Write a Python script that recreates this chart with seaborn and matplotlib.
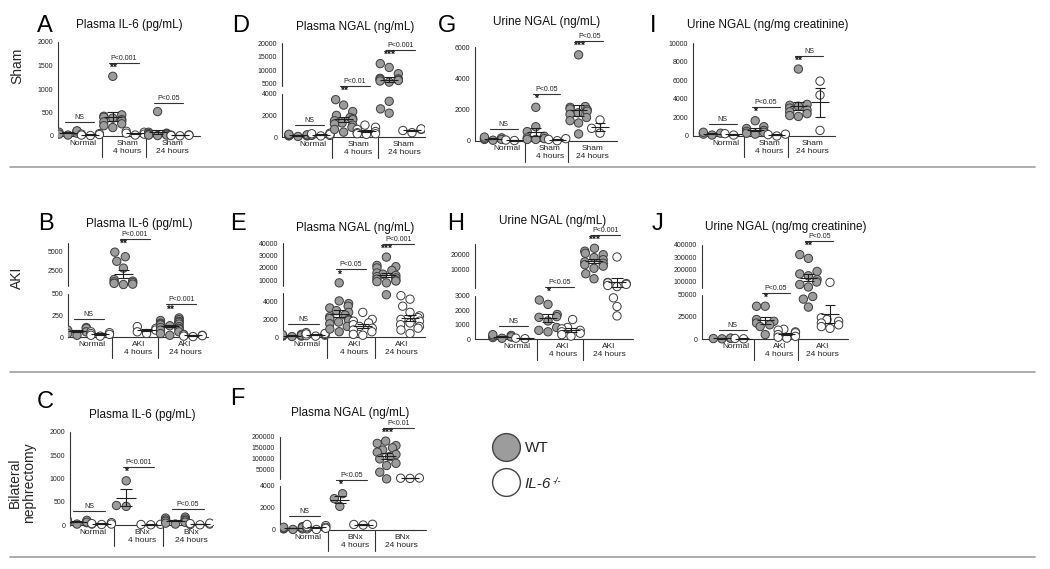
import numpy as np
import pandas as pd
import matplotlib
matplotlib.use("Agg")
import matplotlib.pyplot as plt
from matplotlib.lines import Line2D
import seaborn as sns

# values per group, in order [Normal, 4 hours, 24 hours]
A_WT = [[100, 80, 60, 40, 20, 110],
        [1270, 450, 420, 400, 380, 350, 320, 300, 260, 220, 180],
        [520, 80, 60, 50, 40, 40, 30, 20, 20, 10]]
A_KO = [[50, 40, 30, 20, 10], [100, 80, 60, 40, 20], [25, 20, 15, 10, 5]]

D_WT = [[50, 100, 150, 200, 250, 100, 150, 200],
        [3450, 2950, 2350, 2000, 1800, 1700, 1600, 1500, 1300, 1200, 1100, 900, 700, 450],
        [12400, 11000, 8700, 7000, 6800, 6600, 6400, 6200, 6000, 5600, 3300, 2600, 2200]]
D_KO = [[100, 150, 200, 250, 300, 350, 150, 250],
        [1100, 900, 700, 500, 400, 300, 300, 250],
        [400, 600, 700, 750]]

G_WT = [[50, 100, 150, 200, 250, 100],
        [2150, 910, 600, 300, 200, 150, 100, 100],
        [5500, 2200, 2150, 2050, 2000, 1900, 1800, 1700, 1500, 1300, 1150, 450]]
G_KO = [[30, 60], [20, 100, 150], [1340, 810, 500]]

I_WT = [[100, 200, 300, 400],
        [1640, 1000, 800, 600, 500, 400, 300, 200],
        [7200, 3400, 3300, 3200, 3000, 2800, 2600, 2400, 2200, 2100]]
I_KO = [[100, 250], [0, 150, 200], [5900, 4400, 600]]

B_WT = [[110, 100, 80, 60, 40, 20],
        [4900, 4300, 3700, 2800, 1300, 1100, 1000, 900, 800, 700, 650],
        [220, 200, 190, 180, 170, 160, 150, 150, 140, 130, 120, 110, 100, 90, 80, 60, 40, 20]]
B_KO = [[60, 50, 40, 30, 20, 10], [120, 100, 80, 60, 40], [30, 25, 20, 15, 10, 5]]

E_WT = [[50, 100, 150, 200, 250, 300, 100, 200],
        [8000, 4100, 3800, 3500, 3300, 3000, 2800, 2500, 2300, 2100, 2000, 1900, 1700, 1500, 1200, 900, 600],
        [28700, 22000, 21000, 20000, 18000, 16000, 15000, 14000, 13000, 12000, 11000, 10000, 9500, 9000, 8000, 4800]]
E_KO = [[100, 200, 300, 400, 500, 250, 150, 350],
        [2800, 2000, 1800, 1600, 1400, 1200, 1000, 800, 600, 300, 200],
        [4700, 4300, 3500, 2800, 2400, 2200, 2000, 1800, 1600, 1400, 1200, 1000, 800, 400]]

H_WT = [[50, 100, 150, 200, 250, 300, 150],
        [2700, 2400, 1700, 1550, 1500, 1250, 800, 600, 500],
        [24500, 22500, 21000, 20000, 18000, 16500, 15000, 14000, 13000, 12000, 10500, 8300, 6500]]
H_KO = [[20, 60],
        [1350, 800, 700, 600, 500, 400, 300, 200],
        [18400, 5200, 5000, 4800, 4500, 4100, 3700, 2850, 2250, 1600]]

J_WT = [[200, 500, 800, 1000],
        [37000, 37000, 22000, 20000, 18000, 16000, 14000, 5000],
        [320000, 290000, 185000, 165000, 150000, 120000, 100000, 80000, 60000, 48000, 45000, 36000]]
J_KO = [[200, 600],
        [11000, 10000, 8000, 7000, 5000, 3000, 2000, 1000],
        [97000, 24000, 22000, 20000, 18000, 16000, 14000, 12000]]

C_WT = [[20, 50, 80, 100, 120, 60, 40, 90], [950, 420, 400],
        [170, 150, 130, 110, 100, 90, 80, 60, 40, 20]]
C_KO = [[10, 20, 30, 40, 50, 20], [5, 10, 15], [5, 10, 20, 30, 40]]

F_WT = [[50, 100, 150, 200, 250, 300, 100, 200], [3300, 2850, 2150],
        [180000, 170000, 160000, 150000, 140000, 130000, 120000, 110000, 100000, 80000, 70000, 40000, 10000]]
F_KO = [[50, 100, 200, 300, 400, 500, 250, 150], [450, 500, 520], [12000, 13000, 14000]]

ROWS = ["Sham", "AKI", "BNx"]
TITLES = {"A": "Plasma IL-6 (pg/mL)", "D": "Plasma NGAL (ng/mL)", "G": "Urine NGAL (ng/mL)",
          "I": "Urine NGAL (ng/mg creatinine)", "B": "Plasma IL-6 (pg/mL)", "E": "Plasma NGAL (ng/mL)",
          "H": "Urine NGAL (ng/mL)", "J": "Urine NGAL (ng/mg creatinine)", "C": "Plasma IL-6 (pg/mL)",
          "F": "Plasma NGAL (ng/mL)"}
STARS = {"A": ["", "**", ""], "D": ["", "**", "***"], "G": ["", "*", "***"], "I": ["", "*", "**"],
         "B": ["", "**", "**"], "E": ["", "*", "***"], "H": ["", "*", "***"], "J": ["", "*", "**"],
         "C": ["", "*", ""], "F": ["", "*", "***"]}
PVALS = {"A": ["NS", "P<0.001", "P<0.05"], "D": ["NS", "P<0.01", "P<0.001"],
         "G": ["NS", "P<0.05", "P<0.05"], "I": ["NS", "P<0.05", "NS"],
         "B": ["NS", "P<0.001", "P<0.001"], "E": ["NS", "P<0.05", "P<0.001"],
         "H": ["NS", "P<0.05", "P<0.001"], "J": ["NS", "P<0.05", "P<0.05"],
         "C": ["NS", "P<0.001", "P<0.05"], "F": ["NS", "P<0.05", "P<0.01"]}
TICKS = {"A": [0, 500, 1000, 1500, 2000], "D": [0, 2000, 4000, 5000, 10000, 15000, 20000],
         "G": [0, 2000, 4000, 6000], "I": [0, 2000, 4000, 6000, 8000, 10000],
         "B": [0, 250, 500, 2500, 5000], "E": [0, 2000, 4000, 10000, 20000, 30000, 40000],
         "H": [0, 1000, 2000, 3000, 10000, 20000],
         "J": [0, 25000, 50000, 100000, 200000, 300000, 400000],
         "C": [0, 500, 1000, 1500, 2000], "F": [0, 2000, 4000, 50000, 100000, 150000, 200000]}

# layout in pixels: axis box, slot spacing, broken-axis scale (value -> px above zero)
GEO = {
    "A": dict(row=0, x0=58, x1=200, slot0=68, sp=22.4, y0=136, vals=[0, 2000], hts=[0, 94],
              segs=[(0, 2000)], tx=129, ty=25, lx=37, ly=32),
    "D": dict(row=0, x0=282, x1=425, slot0=298, sp=22.8, y0=137, vals=[0, 4000, 4200, 20000],
              hts=[0, 43.3, 51.1, 94], segs=[(0, 4000), (4200, 20000)], tx=355, ty=27, lx=232, ly=32),
    "G": dict(row=0, x0=475, x1=617, slot0=493, sp=21.4, y0=141, vals=[0, 6000], hts=[0, 94],
              segs=[(0, 6000)], tx=547, ty=22, lx=438, ly=32),
    "I": dict(row=0, x0=693, x1=835, slot0=712, sp=21.6, y0=136, vals=[0, 10000], hts=[0, 93],
              segs=[(0, 10000)], tx=768, ty=25, lx=650, ly=32),
    "B": dict(row=1, x0=68, x1=208, slot0=77, sp=23.2, y0=337, vals=[0, 500, 520, 2500, 5000],
              hts=[0, 43.3, 51.5, 66.6, 85.6], segs=[(0, 500), (520, 6100)], tx=139, ty=224, lx=38, ly=230),
    "E": dict(row=1, x0=283, x1=425, slot0=292, sp=23.6, y0=337,
              vals=[0, 5000, 5700, 10000, 40000], hts=[0, 44, 51.3, 56.6, 94],
              segs=[(0, 5000), (5700, 40000)], tx=355, ty=228, lx=230, ly=230),
    "H": dict(row=1, x0=475, x1=633, slot0=502, sp=23.0, y0=339,
              vals=[0, 3000, 3200, 10000, 20000, 30000], hts=[0, 43.3, 51, 70, 84.3, 98.6],
              segs=[(0, 3000), (3200, 27500)], tx=553, ty=221, lx=447, ly=230),
    "J": dict(row=1, x0=702, x1=848, slot0=722, sp=21.6, y0=339,
              vals=[0, 50000, 52000, 100000, 400000], hts=[0, 44.3, 51, 57, 94.3],
              segs=[(0, 50000), (52000, 400000)], tx=786, ty=227, lx=652, ly=230),
    "C": dict(row=2, x0=70, x1=213, slot0=77, sp=24.6, y0=525, vals=[0, 2000], hts=[0, 93],
              segs=[(0, 2000)], tx=142, ty=415, lx=37, ly=408),
    "F": dict(row=2, x0=280, x1=426, slot0=293, sp=23.4, y0=530, vals=[0, 4000, 8000, 200000],
              hts=[0, 44, 50.7, 93.3], segs=[(0, 4000), (8000, 200000)], tx=350, ty=413, lx=230, ly=405),
}
DATA = {"A": (A_WT, A_KO), "D": (D_WT, D_KO), "G": (G_WT, G_KO), "I": (I_WT, I_KO),
        "B": (B_WT, B_KO), "E": (E_WT, E_KO), "H": (H_WT, H_KO), "J": (J_WT, J_KO),
        "C": (C_WT, C_KO), "F": (F_WT, F_KO)}

sns.set_style("white")
plt.rcParams["font.family"] = ["Liberation Sans", "DejaVu Sans"]

W, H = 1050, 569
AXC = "#333333"
TXT = "#222222"
PAL = {"WT": "#9c9c9c", "KO": "white"}

fig = plt.figure(figsize=(W / 100, H / 100), dpi=100)


def piecewise(xp, fp):
    xp = np.asarray(xp, float)
    fp = np.asarray(fp, float)
    s0 = (fp[1] - fp[0]) / (xp[1] - xp[0])
    s1 = (fp[-1] - fp[-2]) / (xp[-1] - xp[-2])

    def f(v):
        v = np.asarray(v, float)
        out = np.interp(v, xp, fp)
        out = np.where(v < xp[0], fp[0] + (v - xp[0]) * s0, out)
        out = np.where(v > xp[-1], fp[-1] + (v - xp[-1]) * s1, out)
        return out
    return f


def draw_panel(key):
    geo = GEO[key]
    wt, ko = DATA[key]
    fwd = piecewise(geo["vals"], geo["hts"])
    inv = piecewise(geo["hts"], geo["vals"])
    top = float(fwd(geo["segs"][-1][1]))
    pad_b, pad_t = 12, 6
    ax = fig.add_axes([geo["x0"] / W, 1 - (geo["y0"] + pad_b) / H,
                       (geo["x1"] - geo["x0"]) / W, (pad_b + top + pad_t) / H])

    order, recs = [], []
    for g in range(3):
        for geno, groups in (("WT", wt), ("KO", ko)):
            slot = f"{g}{geno}"
            order.append(slot)
            recs += [(slot, geno, v) for v in groups[g]]
    df = pd.DataFrame(recs, columns=["slot", "geno", "value"])

    sns.swarmplot(data=df, x="slot", y="value", hue="geno", order=order,
                  hue_order=["WT", "KO"], palette=PAL, size=6, linewidth=0.7,
                  edgecolor="#3c3c3c", legend=False, ax=ax, zorder=3)

    ax.set_yscale("function", functions=(fwd, inv))
    xl = ((geo["x0"] - geo["slot0"]) / geo["sp"], (geo["x1"] - geo["slot0"]) / geo["sp"])
    ax.set_xlim(*xl)
    ax.set_ylim(float(inv(-pad_b)), float(inv(top + pad_t)))

    # mean +/- SEM
    for i, slot in enumerate(order):
        v = df.loc[df.slot == slot, "value"].to_numpy(float)
        m = v.mean()
        se = v.std(ddof=1) / np.sqrt(len(v)) if len(v) > 1 else 0
        ax.hlines(m, i - 0.4, i + 0.4, color="#1e1e1e", lw=0.8, zorder=4)
        ax.vlines(i, m - se, m + se, color="#1e1e1e", lw=0.8, zorder=4)
        ax.hlines([m - se, m + se], i - 0.25, i + 0.25, color="#1e1e1e", lw=0.8, zorder=4)

    # axes lines
    for s in ax.spines.values():
        s.set_visible(False)
    ax.plot(xl, [0, 0], color=AXC, lw=0.8, clip_on=False, zorder=2)
    for a, b in geo["segs"]:
        ax.plot([xl[0], xl[0]], [a, b], color=AXC, lw=0.8, clip_on=False, zorder=2)
    ax.set_yticks(TICKS[key])
    ax.set_yticklabels([str(t) for t in TICKS[key]])
    ax.tick_params(axis="y", direction="out", length=2.5, width=0.7, colors=AXC,
                   labelsize=5, pad=1, labelcolor=TXT)
    ax.set_xticks([])
    ax.set_xlabel("")
    ax.set_ylabel("")

    # group separators and labels
    for xs in (1.5, 3.5):
        ax.plot([xs, xs], [0, float(inv(-21))], color=AXC, lw=0.8, clip_on=False)
    r = ROWS[geo["row"]]
    labels = ["Normal", f"{r}\n4 hours", f"{r}\n24 hours"]
    for g, lab in enumerate(labels):
        ax.text(2 * g + 0.65, float(inv(-4)), lab, ha="center", va="top", fontsize=6,
                linespacing=1.15, color=TXT)

    # significance
    for g in range(3):
        hi = max(float(fwd(max(wt[g]))), float(fwd(max(ko[g])))) + 4.5
        star = STARS[key][g]
        if star:
            ax.text(2 * g, float(inv(hi - 1)), star, ha="center", va="bottom",
                    fontsize=7.5, fontweight="bold", color="#111111")
            lh = hi + 9
        else:
            lh = hi + 4
        cx = 2 * g + 0.5
        ax.plot([cx - 0.65, cx + 0.65], [float(inv(lh))] * 2, color=AXC, lw=0.8, clip_on=False)
        ax.text(cx, float(inv(lh + 1)), PVALS[key][g], ha="center", va="bottom",
                fontsize=5, color=TXT)

    fig.text(geo["tx"] / W, 1 - geo["ty"] / H, TITLES[key], ha="center", va="center",
             fontsize=8.5, color="#111111")
    fig.text(geo["lx"] / W, 1 - geo["ly"] / H, key, ha="left", va="baseline",
             fontsize=17, color="black")


for k in GEO:
    draw_panel(k)

# row labels
fig.text(17 / W, 1 - 66 / H, "Sham", rotation=90, ha="center", va="center", fontsize=10)
fig.text(17 / W, 1 - 278 / H, "AKI", rotation=90, ha="center", va="center", fontsize=10)
fig.text(22 / W, 1 - 483 / H, "Bilateral\nnephrectomy", rotation=90, ha="center",
         va="center", fontsize=10, linespacing=1.0)

# row separators
for yy in (167, 372, 557):
    fig.add_artist(Line2D([10 / W, 1035 / W], [1 - yy / H] * 2, color="#a0a0a0", lw=1.2))

# legend
handles = [Line2D([], [], marker="o", ls="", ms=20, mfc=PAL["WT"], mec="#444444", mew=1.0),
           Line2D([], [], marker="o", ls="", ms=20, mfc=PAL["KO"], mec="#444444", mew=1.0)]
leg = fig.legend(handles, ["WT", "IL-6"], loc="upper left",
                 bbox_to_anchor=(488 / W, 1 - 435 / H), frameon=False, fontsize=11,
                 handletextpad=0.5, labelspacing=1.4, borderaxespad=0, handlelength=1.5)
ko_txt = leg.get_texts()[1]
ko_txt.set_fontstyle("italic")

# superscript -/- next to the IL-6 label
fig.canvas.draw()
bb = ko_txt.get_window_extent()
fig.text((bb.x1 + 1) / W, (bb.y1 - 1) / H, "-/-", fontsize=6.5, style="italic",
         ha="left", va="top")

fig.savefig("out.png", dpi=100)
